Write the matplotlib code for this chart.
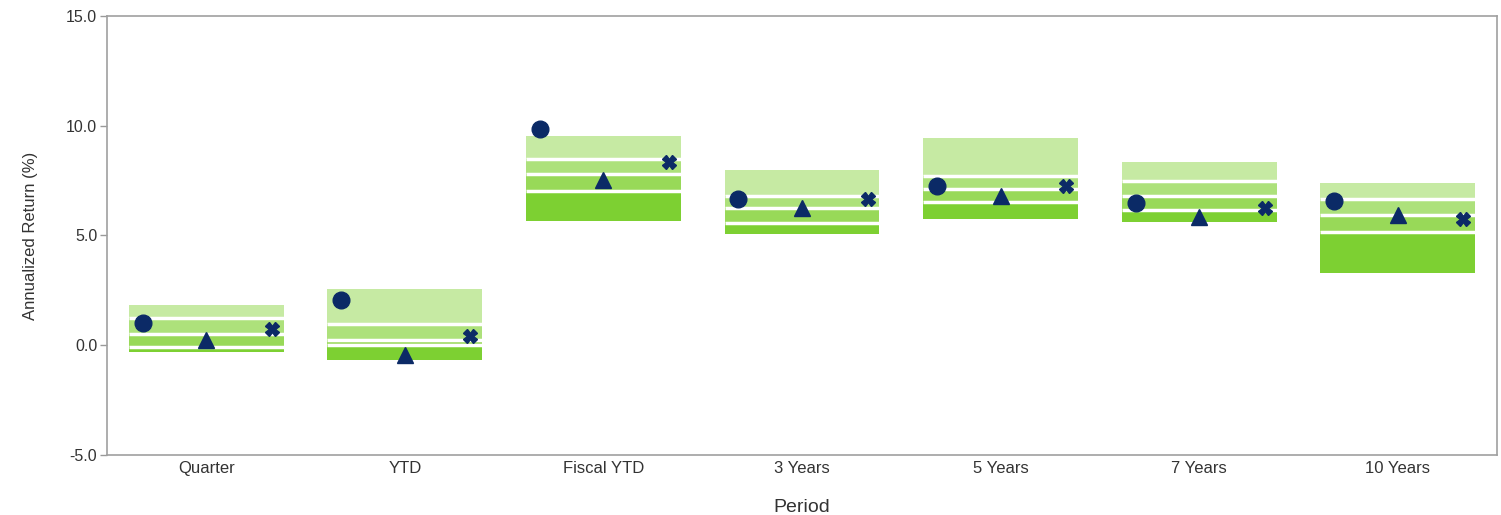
import matplotlib
matplotlib.use("Agg")
import matplotlib.pyplot as plt
import numpy as np

plt.rcParams['font.family'] = ['Liberation Sans', 'DejaVu Sans']

periods = ['Quarter', 'YTD', 'Fiscal YTD', '3 Years', '5 Years', '7 Years', '10 Years']

# percentile boundaries: top (5th), 25th, median, 75th, bottom (95th)
p05 = [1.82, 2.54, 9.52, 7.97, 9.42, 8.35, 7.40]
p25 = [1.24, 0.99, 8.50, 6.79, 7.70, 7.47, 6.68]
p50 = [0.49, 0.23, 7.82, 6.23, 7.14, 6.79, 5.95]
p75 = [-0.08, 0.00, 7.02, 5.57, 6.53, 6.15, 5.16]
p95 = [-0.31, -0.68, 5.66, 5.09, 5.73, 5.62, 3.30]

circle_vals = [1.02, 2.05, 9.87, 6.68, 7.24, 6.46, 6.57]
triangle_vals = [0.23, -0.46, 7.52, 6.23, 6.79, 5.85, 5.95]
cross_vals = [0.72, 0.41, 8.35, 6.68, 7.24, 6.27, 5.73]

seg_colors = ['#c6eaa3', '#ade17b', '#98d958', '#7dd032']
navy = '#0b2a66'

fig = plt.figure(figsize=(15.01, 5.15), dpi=100)
ax = fig.add_axes([0.0713, 0.1165, 0.926, 0.8525])

x = np.arange(len(periods))
width = 0.78
tops = [p05, p25, p50, p75]
bottoms = [p25, p50, p75, p95]
for top, bot, c in zip(tops, bottoms, seg_colors):
    top = np.array(top)
    bot = np.array(bot)
    ax.bar(x, top - bot, bottom=bot, width=width, color=c, edgecolor='none', zorder=2)

for b in [p25, p50, p75]:
    ax.hlines(b, x - width / 2, x + width / 2, colors='white', linewidth=2.5, zorder=3)

ax.plot(x - 0.32, circle_vals, 'o', color=navy, markersize=12, zorder=4)
ax.plot(x, triangle_vals, '^', color=navy, markersize=12, zorder=4)
ax.plot(x + 0.33, cross_vals, 'X', color=navy, markersize=9.5, zorder=4)

ax.set_xlim(-0.5, len(periods) - 0.5)
ax.set_ylim(-5, 15)
ax.set_yticks([-5, 0, 5, 10, 15])
ax.set_yticklabels([f'{v:.1f}' for v in [-5, 0, 5, 10, 15]])
ax.set_xticks(x)
ax.set_xticklabels(periods)
ax.tick_params(axis='x', length=0, labelsize=12, colors='#333333', pad=4)
ax.tick_params(axis='y', length=5, width=1, color='#999999', labelsize=11.5, labelcolor='#333333', pad=2)
for s in ax.spines.values():
    s.set_color('#a0a0a0')
    s.set_linewidth(1.2)

ax.set_xlabel('Period', fontsize=14, color='#333333', labelpad=17)
ax.set_ylabel('Annualized Return (%)', fontsize=12, color='#333333', labelpad=20)

fig.savefig('out.png', dpi=100)
